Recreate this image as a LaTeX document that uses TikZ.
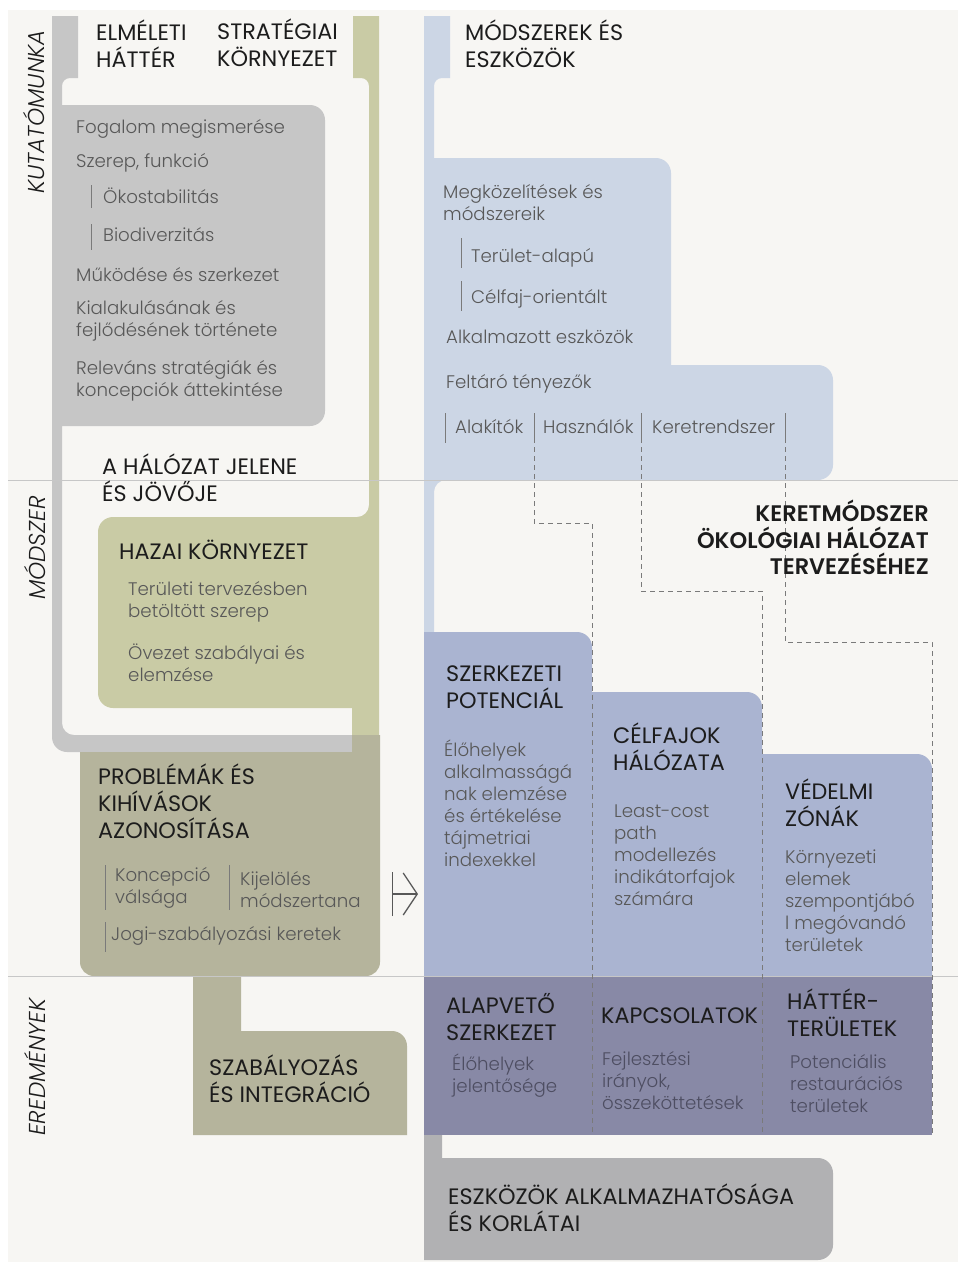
\documentclass[tikz,border=0pt]{standalone}
\usepackage{fontspec}
\setmainfont{Poppins}
\newfontfamily\lightfont{Poppins Light}
\newfontfamily\lightitfont{Poppins Light Italic}
\newfontfamily\semifont{Poppins SemiBold}
\usetikzlibrary{arrows.meta}

\definecolor{paper}{HTML}{F7F6F3}
\definecolor{frame}{HTML}{C6C6C6}
\definecolor{olive}{HTML}{C9CBA5}
\definecolor{khaki}{HTML}{B5B49C}
\definecolor{skyblue}{HTML}{CCD6E5}
\definecolor{midblue}{HTML}{AAB4D1}
\definecolor{duskblue}{HTML}{8889A6}
\definecolor{toolgray}{HTML}{B1B1B3}
\definecolor{ink}{HTML}{1C1C1C}
\definecolor{soft}{HTML}{585858}
\definecolor{dusktext}{HTML}{4E4E62}
\definecolor{tickc}{HTML}{7A7A7A}

\tikzset{
  head/.style={anchor=north west, inner sep=0, align=left, yshift=24pt,
    font=\fontsize{22.3}{27}\selectfont, text=ink,
    execute at begin node=\rule{0pt}{24pt}},
  body/.style={anchor=north west, inner sep=0, align=left, yshift=20pt,
    font=\lightfont\fontsize{18.2}{22}\selectfont, text=soft,
    execute at begin node=\rule{0pt}{20pt}},
  title/.style={head, anchor=north east, align=right,
    font=\semifont\fontsize{22.5}{26.5}\selectfont},
  side/.style={rotate=90, inner sep=0, text=ink,
    font=\lightitfont\fontsize{23}{23}\selectfont},
  tick/.style={draw=tickc, line width=1pt},
  link/.style={draw=tickc, line width=0.8pt, dash pattern=on 5pt off 4pt},
  sep/.style={draw=black!22, line width=1pt}
}

\begin{document}
\begin{tikzpicture}[x=1pt, y=-1pt]
    \useasboundingbox (0,0) rectangle (958,1262);
    \fill [white] (0,0) rectangle (958,1262);
    \fill [paper] (8,10) rectangle (958,1262);

    % left column: frames
    \fill [frame] (60,16) -- (78,16) -- (78,78) [rounded corners=8] -- (62,78)
        [sharp corners] -- (62,105) [rounded corners=15] -- (325,105) -- (325,426)
        [sharp corners] -- (62,426) [rounded corners=12] -- (62,735) [sharp corners] -- (352,735)
        -- (352,752) [rounded corners=15] -- (52,752) [sharp corners] -- (52,16) -- cycle;
    \fill [olive] (366,16) -- (379,16) -- (379,735) -- (352,735) -- (352,708)
        [rounded corners=15] -- (98,708) -- (98,517) [rounded corners=12] -- (369,517)
        [rounded corners=8] -- (369,78) [sharp corners] -- (353,78) -- (353,16) -- cycle;
    \fill [khaki] (200,752) -- (352,752) -- (352,735) -- (380,735)
        [rounded corners=14] -- (380,976) -- (80,976) [sharp corners] -- (80,752) -- cycle;
    \fill [khaki] (193,965) -- (241,965) -- (241,1031) [rounded corners=15] -- (407,1031)
        [sharp corners] -- (407,1135) -- (193,1135) -- cycle;

    % right column: frames
    \fill [skyblue] (424,16) -- (450,16) -- (450,78) [rounded corners=8] -- (434,78)
        [sharp corners] -- (434,158) [rounded corners=15] -- (671,158) [sharp corners] -- (671,365)
        [rounded corners=15] -- (833,365) -- (833,480) [rounded corners=12] -- (434,480)
        [sharp corners] -- (434,650) -- (424,650) -- cycle;
    \fill [midblue] (424,990) -- (424,632) [rounded corners=15] -- (592,632)
        [sharp corners] -- (592,692) [rounded corners=15] -- (762,692) [sharp corners] -- (762,754)
        [rounded corners=15] -- (932,754) [sharp corners] -- (932,990) -- cycle;
    \fill [duskblue] (424,976) rectangle (932,1135);
    \fill [toolgray] (424,1135) -- (442,1135) -- (442,1158) [rounded corners=15] -- (833,1158)
        -- (833,1260) [sharp corners] -- (424,1260) -- cycle;

    % phase rules
    \draw [sep] (8,480) -- (958,480);
    \draw [sep] (8,976) -- (958,976);

    % side labels
    \path (34,112) node [side] (kut) {KUTATÓMUNKA};
    \path (35,548) node [side] (msz) {MÓDSZER};
    \path (35,1067) node [side] (ered) {EREDMÉNYEK};

    % left column: texts
    \path (96,44) node [head] (elm) {ELMÉLETI\\HÁTTÉR};
    \path (217,43) node [head] (str) {STRATÉGIAI\\KÖRNYEZET};
    \path (76,133) node [body] (fog) {Fogalom megismerése};
    \path (76,167) node [body] (sze) {Szerep, funkció};
    \path (103,203) node [body] (oko) {Ökostabilitás};
    \path (103,241) node [body] (bio) {Biodiverzitás};
    \draw [tick] (91,185) -- (91,208);
    \draw [tick] (91,224) -- (91,250);
    \path (76,281) node [body] (muk) {Működése és szerkezet};
    \path (76,320) node [body] (kia) {Kialakulásának és\\fejlődésének története};
    \path (76,380) node [body] (rel) {Releváns stratégiák és\\koncepciók áttekintése};
    \path (102,478) node [head] (jel) {A HÁLÓZAT JELENE\\ÉS JÖVŐJE};
    \path (119,559) node [head] (haz) {HAZAI KÖRNYEZET};
    \path (128,601) node [body] (ter) {Területi tervezésben\\betöltött szerep};
    \path (128,664) node [body] (ove) {Övezet szabályai és\\elemzése};
    \path (98,788) node [head] (pro) {PROBLÉMÁK ÉS\\KIHÍVÁSOK\\AZONOSÍTÁSA};
    \path (115,887) node [body] (kon) {Koncepció\\válsága};
    \path (240,891) node [body] (kij) {Kijelölés\\módszertana};
    \path (111,940) node [body] (jog) {Jogi-szabályozási keretek};
    \draw [tick] (105,865) -- (105,910);
    \draw [tick] (229,865) -- (229,910);
    \draw [tick] (105,922) -- (105,952);
    \path (209,1079) node [head] (szab) {SZABÁLYOZÁS\\ÉS INTEGRÁCIÓ};

    % arrow into the framework
    \coordinate (pa) at (392,894);
    \coordinate (pb) at (418,894);
    \draw [{Bar[width=44pt]}-{Straight Barb[length=14pt,width=42pt]}, line width=1.3pt, soft] (pa) -- (pb);

    % right column: texts
    \path (465,44) node [head] (mod) {MÓDSZEREK ÉS\\ESZKÖZÖK};
    \path (443,204) node [body] (megk) {Megközelítések és\\módszereik};
    \path (471,262) node [body] (teru) {Terület-alapú};
    \path (471,303) node [body] (celf) {Célfaj-orientált};
    \draw [tick] (461,238) -- (461,268);
    \draw [tick] (461,281) -- (461,311);
    \path (446,343) node [body] (alk) {Alkalmazott eszközök};
    \path (446,388) node [body] (felt) {Feltáró tényezők};
    \path (455,433) node [body] (ala) {Alakítók};
    \path (543,433) node [body] (has) {Használók};
    \path (652,433) node [body] (ker) {Keretrendszer};
    \foreach \x in {445,534,641,785}
        \draw [tick] (\x,413) -- (\x,443);

    % dashed links down to the columns
    \coordinate (has1) at (534,447);
    \coordinate (has2) at (592,1135);
    \coordinate (ker1) at (641,447);
    \coordinate (ker2) at (762,1135);
    \coordinate (rnd1) at (785,447);
    \coordinate (rnd2) at (932,1135);
    \draw [link] (has1) |- (592,523) -- (has2);
    \draw [link] (ker1) |- (762,591) -- (ker2);
    \draw [link] (rnd1) |- (932,642) -- (rnd2);

    \path (929,524) node [title] (keret) {KERETMÓDSZER\\ÖKOLÓGIAI HÁLÓZAT\\TERVEZÉSÉHEZ};

    \path (446,690) node [head] (szp) {SZERKEZETI\\POTENCIÁL};
    \path (444,760) node [body] (szpt) {Élőhelyek\\alkalmasságá\\nak elemzése\\és értékelése\\tájmetriai\\indexekkel};
    \path (613,747) node [head] (cfh) {CÉLFAJOK\\HÁLÓZATA};
    \path (614,825) node [body] (cfht) {Least-cost\\path\\modellezés\\indikátorfajok\\számára};
    \path (785,803) node [head] (vz) {VÉDELMI\\ZÓNÁK};
    \path (785,870) node [body] (vzt) {Környezeti\\elemek\\szempontjábó\\l megóvandó\\területek};

    \path (446,1017) node [head] (alap) {ALAPVETŐ\\SZERKEZET};
    \path (452,1074) node [body, text=dusktext] (alapt) {Élőhelyek\\jelentősége};
    \path (601,1023) node [head] (kapcs) {KAPCSOLATOK};
    \path (602,1071) node [body, text=dusktext] (kapcst) {Fejlesztési\\irányok,\\összeköttetések};
    \path (787,1013) node [head] (hat) {HÁTTÉR-\\TERÜLETEK};
    \path (790,1074) node [body, text=dusktext] (hatt) {Potenciális\\restaurációs\\területek};

    \path (448,1208) node [head] (eszk) {ESZKÖZÖK ALKALMAZHATÓSÁGA\\ÉS KORLÁTAI};
\end{tikzpicture}
\end{document}
